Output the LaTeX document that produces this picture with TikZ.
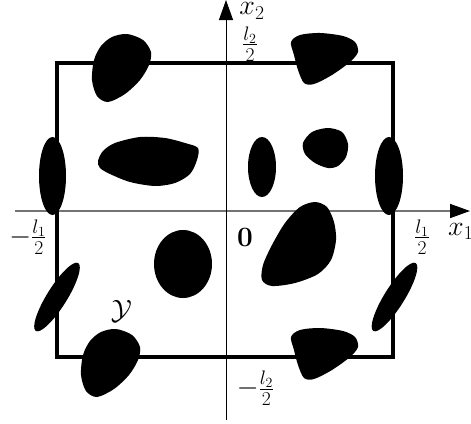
\RequirePackage{fix-cm}
\documentclass[tikz,border=0pt]{standalone}
\usetikzlibrary{arrows.meta}
\begin{document}
\begin{tikzpicture}[x=1pt,y=-1pt,
  blob/.style={fill=black},
  axisline/.style={line width=1pt},
  tiparrow/.style={-{Triangle[length=20pt,width=14pt,color=black]}},
  cell/.style={line width=3.5pt},
  lab/.style={inner sep=0pt,font=\fontsize{28}{30}\selectfont},
  fraclab/.style={inner sep=0pt,font=\fontsize{28}{30}\selectfont}]
\useasboundingbox (0,0) rectangle (471,423);
% axes
\coordinate (xs) at (15,211);
\coordinate (xe) at (470,211);
\coordinate (ys) at (226,420);
\coordinate (ye) at (226,0);
\draw[axisline,line width=1.6pt,black!55,tiparrow] (xs) -- (xe);
\draw[axisline,tiparrow] (ys) -- (ye);
% cell
\coordinate (cellNW) at (57,63);
\coordinate (cellSE) at (393,357);
\draw[cell] (cellNW) rectangle (cellSE);
% blobs
\fill[blob] plot[smooth cycle] coordinates {(112,37) (127,34) (143,40) (151,52) (149,65) (140,80) (125,94) (108,102) (97,96) (92,80) (94,60) (101,46)};
\fill[blob,shift={(-11,295)}] plot[smooth cycle] coordinates {(112,37) (127,34) (143,40) (151,52) (149,65) (140,80) (125,94) (108,102) (97,96) (92,80) (94,60) (101,46)};
\fill[blob] plot[smooth cycle] coordinates {(98,161) (103,151) (115,143) (140,137) (165,138) (185,143) (198,148) (197,160) (190,174) (175,183) (155,186) (130,182) (110,174) (100,168)};
\fill[blob] plot[smooth cycle] coordinates {(291,42) (300,35) (320,33) (343,36) (355,42) (358,52) (350,62) (332,75) (314,84) (304,83) (298,70) (294,55)};
\fill[blob,shift={(0,295)}] plot[smooth cycle] coordinates {(291,42) (300,35) (320,33) (343,36) (355,42) (358,52) (350,62) (332,75) (314,84) (304,83) (298,70) (294,55)};
\fill[blob] plot[smooth cycle] coordinates {(328,128) (342,132) (348,144) (346,157) (338,166) (328,168) (315,163) (305,154) (303,143) (312,132)};
\fill[blob] plot[smooth cycle] coordinates {(315,202) (327,207) (334,222) (336,240) (331,260) (318,274) (295,283) (272,286) (262,280) (263,265) (272,245) (285,223) (300,207)};
\fill[blob] (52.5,176) ellipse [x radius=13.5, y radius=39];
\fill[blob] (389,176) ellipse [x radius=14, y radius=39];
\fill[blob] (262,167) ellipse [x radius=14, y radius=30];
\fill[blob] (183,264) ellipse [x radius=29, y radius=34];
\fill[blob,rotate around={58:(57,297)}] (57,297) ellipse [x radius=40, y radius=10];
\fill[blob,rotate around={58:(394.5,297)}] (394.5,297) ellipse [x radius=40, y radius=10];
% labels
\node[lab] (lx2) at (252,11) {$x_2$};
\node[lab,anchor=base west] (lx1) at (448,235) {$x_1$};
\node[lab] (lzero) at (245,237.5) {$\mathbf{0}$};
\node[lab] (lY) at (121.5,311.5) {$\mathcal{Y}$};
\node[fraclab] (ltop) at (250,44) {$\frac{l_2}{2}$};
\node[fraclab] (lleft) at (28,237) {$-\frac{l_1}{2}$};
\node[fraclab] (lright) at (422,237) {$\frac{l_1}{2}$};
\node[fraclab] (lbot) at (255.5,388.5) {$-\frac{l_2}{2}$};
\end{tikzpicture}
\end{document}
